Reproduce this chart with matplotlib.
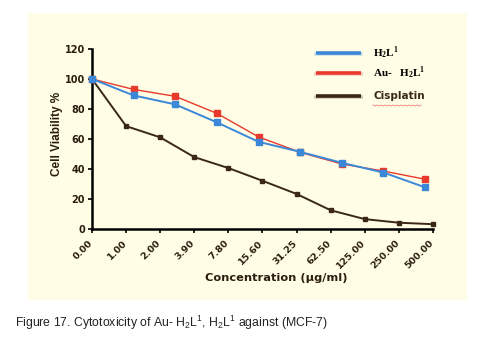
import numpy as np
import matplotlib
matplotlib.use("Agg")
import matplotlib.pyplot as plt
import matplotlib.transforms as mtransforms
from matplotlib.lines import Line2D
from matplotlib.patches import Rectangle

plt.rcParams["mathtext.fontset"] = "custom"
plt.rcParams["mathtext.rm"] = "Liberation Sans"
plt.rcParams["mathtext.bf"] = "Liberation Serif:bold"

PANEL = "#fffde6"
INK = "#2b1d0e"
BLUE = "#3b88d8"
RED = "#e83a2c"
BLACK = "#3a2815"

# concentration tick labels (ug/ml)
conc_labels = ["0.00", "1.00", "2.00", "3.90", "7.80", "15.60", "31.25",
               "62.50", "125.00", "250.00", "500.00"]

# cell viability (%)
h2l1 = [100, 89, 83, 71, 58, 51.3, 44, 37.5, 27.6]
au_h2l1 = [100, 93, 88.4, 77, 61.3, 51, 43.2, 38.5, 33]
cisplatin = [100, 68.5, 61, 47.8, 40.5, 32, 23.2, 12.3, 6.4, 4, 3]

fig = plt.figure(figsize=(4.86, 3.52), dpi=100, facecolor="white")
fig.patches.append(Rectangle((0.0576, 0.148), 0.903, 0.815, transform=fig.transFigure,
                             facecolor=PANEL, edgecolor="none", zorder=-5))

ax = fig.add_axes([0.1893, 0.3503, 0.7016, 0.5105])
ax.set_facecolor("none")

# the two ligand series were plotted on their own, wider-spaced category axis
n_lig = len(h2l1)
x_lig = np.arange(n_lig) * (9.77 / (n_lig - 1))
x_cis = np.arange(len(cisplatin))

ax.plot(x_cis, cisplatin, color=BLACK, lw=1.4, marker="s", ms=3.2, zorder=3, clip_on=False)
ax.plot(x_lig, au_h2l1, color=RED, lw=1.0, marker="s", ms=4.5, zorder=4, clip_on=False)
ax.plot(x_lig, h2l1, color=BLUE, lw=1.4, marker="s", ms=4.5, zorder=5, clip_on=False)

ax.set_xlim(0, 10)
ax.set_ylim(0, 120)
ax.set_yticks(range(0, 121, 20))
ax.set_xticks(x_cis)
ax.set_xticklabels([])

# rotated category labels, nudged left/down as in the original
shift = mtransforms.ScaledTranslation(-4 / 100, -10 / 100, fig.dpi_scale_trans)
for xi, lab in zip(x_cis, conc_labels):
    ax.text(xi, 0, lab, transform=ax.get_xaxis_transform() + shift,
            rotation=45, rotation_mode="anchor", ha="right", va="top",
            fontsize=6.8, fontweight="bold", color=INK, family="DejaVu Sans")

for lbl in ax.get_yticklabels():
    lbl.set_fontweight("bold")
    lbl.set_color(INK)
    lbl.set_fontfamily("DejaVu Sans")
    lbl.set_fontsize(7)

ax.tick_params(axis="both", colors="black", direction="out", length=3, width=1.2,
               labelcolor=INK)
ax.tick_params(axis="y", pad=2)
for s in ["top", "right"]:
    ax.spines[s].set_visible(False)
for s in ["left", "bottom"]:
    ax.spines[s].set_linewidth(1.8)
    ax.spines[s].set_color("black")

ax.set_xlabel("Concentration (µg/ml)", fontsize=8.2, fontweight="bold", color=INK,
              fontfamily="DejaVu Sans")
ax.xaxis.set_label_coords(0.54, -0.245)
ax.set_ylabel("Cell Viability %", fontsize=8.5, fontweight="bold", color=INK,
              fontfamily="Liberation Sans")
ax.yaxis.set_label_coords(-0.085, 0.53)

# legend drawn by hand, like the original
def fx(px):
    return px / 486

def fy(py):
    return 1 - py / 352

leg_items = [
    (BLUE, r"$\mathbf{H_2L}^{\mathbf{1}}$", "Liberation Serif", 52.5),
    (RED, r"Au-   $\mathbf{H_2L}^{\mathbf{1}}$", "Liberation Serif", 72.5),
    (BLACK, "Cisplatin", "DejaVu Sans", 96),
]
for col, txt, fam, py in leg_items:
    fig.add_artist(Line2D([fx(316), fx(361)], [fy(py + 1.2), fy(py + 1.2)],
                          color=col, alpha=0.25, lw=2.6))
    fig.add_artist(Line2D([fx(316), fx(361)], [fy(py), fy(py)], color=col, lw=2.6,
                          solid_capstyle="butt"))
    fig.text(fx(373), fy(py), txt, fontsize=8 if fam != "DejaVu Sans" else 7.5,
             fontweight="bold", family=fam, color=BLACK if fam == "DejaVu Sans" else "black",
             ha="left", va="center")

# spell-check squiggle under "Cisplatin"
sq_x = np.linspace(373, 421, 25)
sq_y = 105.5 + np.where(np.arange(25) % 2 == 0, -0.6, 0.6)
fig.add_artist(Line2D(fx(sq_x), fy(sq_y), color="#f08080", lw=0.6))

fig.text(fx(15), fy(323), r"Figure 17. Cytotoxicity of Au- $\mathrm{H_2L^1}$, $\mathrm{H_2L^1}$ against (MCF-7)",
         fontsize=8.8, family="Liberation Sans", color="#222222",
         ha="left", va="center")

fig.savefig("out.png", dpi=100, facecolor="white")
